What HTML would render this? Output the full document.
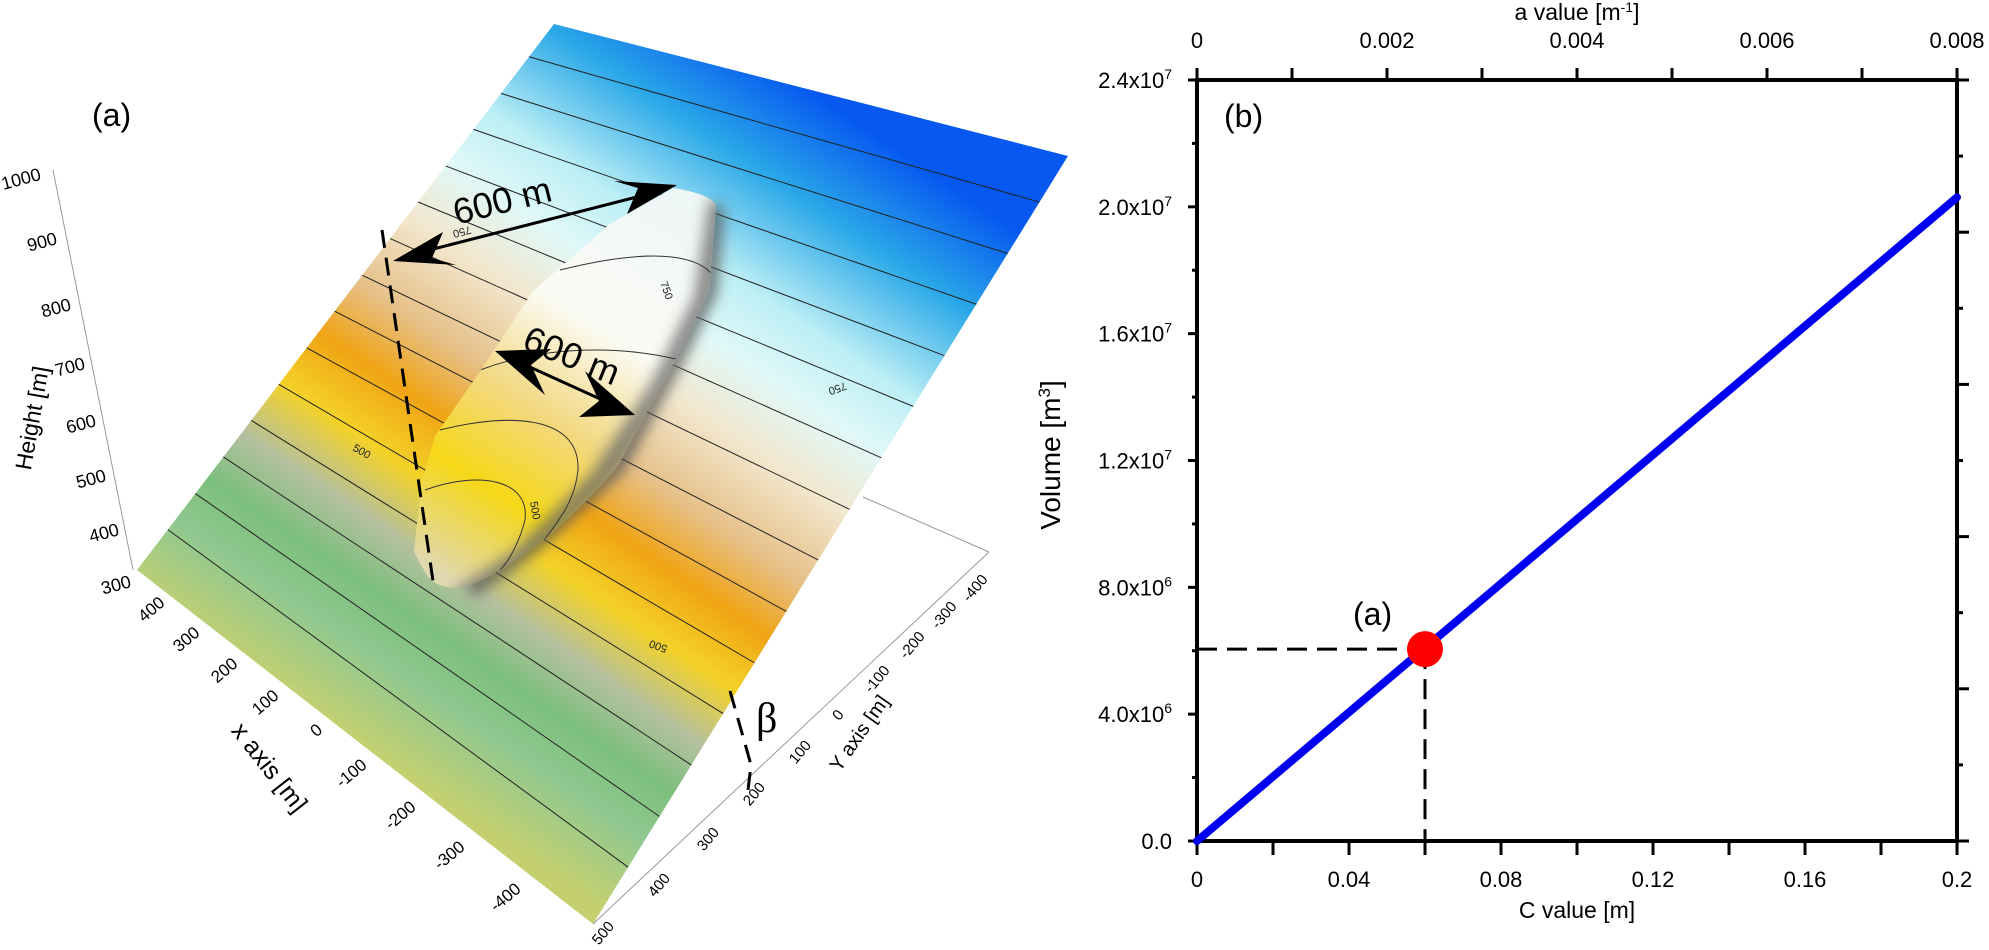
<!DOCTYPE html>
<html><head><meta charset="utf-8"><style>
html,body{margin:0;padding:0;background:#fff;}
svg{display:block;font-family:"Liberation Sans",Arial,sans-serif;}
</style></head><body>
<svg id="fig" width="1989" height="950" viewBox="0 0 1989 950" xmlns="http://www.w3.org/2000/svg">
<defs>
<linearGradient id="surfGrad" gradientUnits="userSpaceOnUse" x1="811" y1="90" x2="365" y2="747">
<stop offset="0" stop-color="#0658f0"/>
<stop offset="0.12" stop-color="#2aa8e8"/>
<stop offset="0.25" stop-color="#bdeff5"/>
<stop offset="0.33" stop-color="#e0f8f8"/>
<stop offset="0.42" stop-color="#f2e6cc"/>
<stop offset="0.52" stop-color="#e6c088"/>
<stop offset="0.60" stop-color="#f0a414"/>
<stop offset="0.68" stop-color="#f4d228"/>
<stop offset="0.76" stop-color="#b4c0a0"/>
<stop offset="0.83" stop-color="#7cbf7c"/>
<stop offset="0.90" stop-color="#90c890"/>
<stop offset="1" stop-color="#c4d070"/>
</linearGradient>
<linearGradient id="bumpGrad" gradientUnits="userSpaceOnUse" x1="690" y1="200" x2="450" y2="580">
<stop offset="0" stop-color="#eef6f6"/>
<stop offset="0.35" stop-color="#fbfbf4"/>
<stop offset="0.58" stop-color="#f3d880"/>
<stop offset="0.78" stop-color="#f6d818"/>
<stop offset="1" stop-color="#e0d8b0"/>
</linearGradient>
<filter id="blur"><feGaussianBlur stdDeviation="7"/></filter>
<clipPath id="bumpClip"><path d="M673,188 C700,192 716,200 716,206 L709,291 L673,364 L617,467 C580,510 530,560 470,585 C450,592 430,585 424,570 C418,560 414,552 414,552 L421,485 L435,436 L477,376 L533,291 L610,224 Z"/></clipPath>
</defs>

<!-- Panel (a) -->
<g>
  <line x1="53" y1="170" x2="133" y2="570" stroke="#999" stroke-width="1"/>
  <line x1="863" y1="497" x2="989" y2="552" stroke="#999" stroke-width="1"/>
  <line x1="989" y1="552" x2="593" y2="924" stroke="#999" stroke-width="1"/>
  <polygon points="554,24 1068,156 593,924 137,570" fill="url(#surfGrad)"/>
  <g id="contours" stroke="#222" stroke-width="1" fill="none"></g>
  <path d="M716,206 L709,291 L673,364 L617,467 L533,545 L470,590" stroke="#555" stroke-width="16" fill="none" filter="url(#blur)" opacity="0.8"/>
  <path d="M673,188 C700,192 716,200 716,206 L709,291 L673,364 L617,467 C580,510 530,560 470,585 C450,592 430,585 424,570 C418,560 414,552 414,552 L421,485 L435,436 L477,376 L533,291 L610,224 Z" fill="url(#bumpGrad)"/>
  <g clip-path="url(#bumpClip)">
    <path d="M720,200 L705,300 L660,390 L600,480 L520,560 L460,600" stroke="#666" stroke-width="22" fill="none" filter="url(#blur)" opacity="0.75"/>
    <path d="M560,270 C640,250 700,250 716,280" stroke="#333" stroke-width="1" fill="none"/>
    <path d="M480,370 C560,340 640,350 680,360" stroke="#333" stroke-width="1" fill="none"/>
    <path d="M440,430 C520,410 580,420 578,470 C575,500 560,520 540,545" stroke="#333" stroke-width="1" fill="none"/>
    <path d="M425,490 C480,470 530,480 525,520 C520,540 510,560 500,570" stroke="#333" stroke-width="1" fill="none"/>
  </g>
  <g font-size="11" fill="#222">
    <text x="470" y="226" transform="rotate(165 470 226)">750</text>
    <text x="660" y="283" transform="rotate(70 660 283)">750</text>
    <text x="845" y="382" transform="rotate(160 845 382)">750</text>
    <text x="352" y="450" transform="rotate(30 352 450)">500</text>
    <text x="530" y="502" transform="rotate(80 530 502)">500</text>
    <text x="668" y="646" transform="rotate(200 668 646)">500</text>
  </g>
  <line x1="382" y1="230" x2="434" y2="588" stroke="#000" stroke-width="3" stroke-dasharray="18,10"/>
  <path d="M730,691 L744,740 L751,765 L748,790" stroke="#000" stroke-width="3" stroke-dasharray="18,10" fill="none"/>
  <g>
    <line x1="410" y1="255" x2="660" y2="191" stroke="#000" stroke-width="3"/>
    <polygon points="393,261 443,232 432,258 456,265" fill="#000"/>
    <polygon points="677,185 627,214 638,188 614,181" fill="#000"/>
  </g>
  <g>
    <line x1="510" y1="358" x2="620" y2="408" stroke="#000" stroke-width="3"/>
    <polygon points="495,351 551,349 531,365 545,395" fill="#000"/>
    <polygon points="635,415 579,417 599,401 585,371" fill="#000"/>
  </g>
  <text x="502" y="213" font-size="36" text-anchor="middle" transform="rotate(-14 502 200)">600 m</text>
  <text x="572" y="368" font-size="36" text-anchor="middle" transform="rotate(22 572 355)">600 m</text>
  <text x="756" y="732" font-size="42" font-family="Liberation Serif, serif">β</text>
  <text x="92" y="126" font-size="32">(a)</text>
  <g font-size="18" text-anchor="middle">
    <text x="21" y="185" transform="rotate(-15 21 179)">1000</text>
    <text x="42" y="248" transform="rotate(-15 42 242)">900</text>
    <text x="56" y="314" transform="rotate(-15 56 308)">800</text>
    <text x="70" y="373" transform="rotate(-15 70 367)">700</text>
    <text x="81" y="430" transform="rotate(-15 81 424)">600</text>
    <text x="91" y="485" transform="rotate(-15 91 479)">500</text>
    <text x="104" y="539" transform="rotate(-15 104 533)">400</text>
    <text x="116" y="591" transform="rotate(-15 116 585)">300</text>
  </g>
  <text x="32" y="426" font-size="23" text-anchor="middle" transform="rotate(-80 32 418)">Height [m]</text>
  <g font-size="17" text-anchor="middle">
    <text x="151" y="615" transform="rotate(-40 151 609)">400</text>
    <text x="186" y="645" transform="rotate(-40 186 639)">300</text>
    <text x="224" y="676" transform="rotate(-40 224 670)">200</text>
    <text x="265" y="708" transform="rotate(-40 265 702)">100</text>
    <text x="316" y="736" transform="rotate(-40 316 730)">0</text>
    <text x="351" y="779" transform="rotate(-40 351 773)">-100</text>
    <text x="400" y="821" transform="rotate(-40 400 815)">-200</text>
    <text x="449" y="861" transform="rotate(-40 449 855)">-300</text>
    <text x="505" y="903" transform="rotate(-40 505 897)">-400</text>
  </g>
  <text x="270" y="776" font-size="25" text-anchor="middle" transform="rotate(52 270 767)">x axis [m]</text>
  <g font-size="15" text-anchor="middle">
    <text x="975" y="593" transform="rotate(-50 975 588)">-400</text>
    <text x="944" y="620" transform="rotate(-50 944 615)">-300</text>
    <text x="912" y="650" transform="rotate(-50 912 645)">-200</text>
    <text x="877" y="684" transform="rotate(-50 877 679)">-100</text>
    <text x="838" y="720" transform="rotate(-50 838 715)">0</text>
    <text x="800" y="757" transform="rotate(-50 800 752)">100</text>
    <text x="754" y="799" transform="rotate(-50 754 794)">200</text>
    <text x="708" y="844" transform="rotate(-50 708 839)">300</text>
    <text x="659" y="890" transform="rotate(-50 659 885)">400</text>
    <text x="603" y="938" transform="rotate(-50 603 933)">500</text>
  </g>
  <text x="859" y="740" font-size="20" text-anchor="middle" transform="rotate(-55 859 733)">Y axis [m]</text>
</g>

<!-- Panel (b) -->
<g id="panelB"></g>
</svg>
<script>
// ---- data for panel (b) ----
const cValues = [0, 0.2];
const volumeValues = [0, 2.03e7];
const pointC = [0.06];
const pointV = [6.05e6];
const cTickLabels = ["0", "0.04", "0.08", "0.12", "0.16", "0.2"];
const cTickValues = [0, 0.04, 0.08, 0.12, 0.16, 0.2];
const aTickLabels = ["0", "0.002", "0.004", "0.006", "0.008"];
const aTickValues = [0, 0.002, 0.004, 0.006, 0.008];
const vTickValues = [0, 4e6, 8e6, 1.2e7, 1.6e7, 2.0e7, 2.4e7];
const vTickMant = ["0.0", "4.0x10", "8.0x10", "1.2x10", "1.6x10", "2.0x10", "2.4x10"];
const vTickExp = ["", "6", "6", "7", "7", "7", "7"];
// contour fractions for panel (a)
const contourFractions = [0.06, 0.127, 0.193, 0.26, 0.326, 0.393, 0.46, 0.526, 0.593, 0.66, 0.726, 0.793, 0.86, 0.926];

const NS = "http://www.w3.org/2000/svg";
function mk(tag, attrs, parent) {
  const e = document.createElementNS(NS, tag);
  for (const k in attrs) e.setAttribute(k, attrs[k]);
  parent.appendChild(e);
  return e;
}

// contours on surface (a)
const cg = document.getElementById('contours');
const T = [554,24], R = [1068,156], B = [593,924], L = [137,570];
contourFractions.forEach(f => {
  const p1 = [T[0] + (L[0]-T[0])*f, T[1] + (L[1]-T[1])*f];
  const p2 = [R[0] + (B[0]-R[0])*f, R[1] + (B[1]-R[1])*f];
  const ln = mk('line', {x1:p1[0], y1:p1[1], x2:p2[0], y2:p2[1]}, cg);
  
  
});

// panel (b)
const g = document.getElementById('panelB');
const X0 = 1197, X1 = 1957, Y0 = 841, Y1 = 80;
const xS = c => X0 + c / 0.2 * (X1 - X0);
const xA = a => X0 + a / 0.008 * (X1 - X0);
const yS = v => Y0 - v / 2.4e7 * (Y0 - Y1);

for (let i = 0; i <= 10; i++) {
  const c = i * 0.02;
  const t = mk('line', {x1:xS(c), y1:Y0, x2:xS(c), y2:Y0+14, stroke:'#000', 'stroke-width':3}, g);
  
  
}
for (let i = 0; i <= 8; i++) {
  const a = i * 0.001;
  const t = mk('line', {x1:xA(a), y1:Y1, x2:xA(a), y2:Y1-12, stroke:'#000', 'stroke-width':3}, g);
  
  
}
for (let i = 0; i <= 12; i++) {
  const v = i * 2e6;
  const len = i % 2 === 0 ? 9 : 5;
  const t = mk('line', {x1:X0-len, y1:yS(v), x2:X0, y2:yS(v), stroke:'#000', 'stroke-width':3}, g);
  
  
}
for (let i = 0; i <= 10; i++) {
  const y = Y0 - i * (Y0 - Y1) / 10;
  const len = i % 2 === 0 ? 12 : 6;
  const t = mk('line', {x1:X1, y1:y, x2:X1+len, y2:y, stroke:'#000', 'stroke-width':3}, g);
  
  
}
const fr = mk('rect', {x:X0, y:Y1, width:X1-X0, height:Y0-Y1, fill:'none', stroke:'#000', 'stroke-width':4}, g);



cTickValues.forEach((c, i) => {
  const t = mk('text', {x:xS(c), y:887, 'font-size':22, 'text-anchor':'middle'}, g);
  t.textContent = cTickLabels[i];
  
  
});
aTickValues.forEach((a, i) => {
  const t = mk('text', {x:xA(a), y:48, 'font-size':22, 'text-anchor':'middle'}, g);
  t.textContent = aTickLabels[i];
  
  
});
vTickValues.forEach((v, i) => {
  const t = mk('text', {x:1172, y:yS(v)+8, 'font-size':22, 'text-anchor':'end'}, g);
  t.textContent = vTickMant[i];
  if (vTickExp[i]) {
    const s = mk('tspan', {dy:-9, 'font-size':14}, t);
    s.textContent = vTickExp[i];
  }
  
  
});
let tt = mk('text', {x:1577, y:20, 'font-size':23, 'text-anchor':'middle'}, g);
tt.innerHTML = 'a value [m<tspan dy="-8" font-size="14">-1</tspan><tspan dy="8">]</tspan>';


tt = mk('text', {x:1577, y:918, 'font-size':23, 'text-anchor':'middle'}, g);
tt.textContent = 'C value [m]';


tt = mk('text', {x:1068, y:463, 'font-size':28, 'text-anchor':'middle', transform:'rotate(-90 1060 463)'}, g);
tt.innerHTML = 'Volume [m<tspan dy="-10" font-size="17">3</tspan><tspan dy="10">]</tspan>';


tt = mk('text', {x:1224, y:127, 'font-size':32}, g);
tt.textContent = '(b)';



const pts = cValues.map((c, i) => xS(c) + ',' + yS(volumeValues[i])).join(' ');
const pl = mk('polyline', {points:pts, fill:'none', stroke:'#0000f0', 'stroke-width':8, 'stroke-linecap':'round'}, g);



pointC.forEach((c, i) => {
  const px = xS(c), py = yS(pointV[i]);
  const h = mk('line', {x1:X0, y1:py, x2:px, y2:py, stroke:'#000', 'stroke-width':3, 'stroke-dasharray':'20,10'}, g);
  
  
  const v = mk('line', {x1:px, y1:py, x2:px, y2:Y0, stroke:'#000', 'stroke-width':3, 'stroke-dasharray':'20,10'}, g);
  
  
  const d = mk('circle', {cx:px, cy:py, r:18, fill:'#ff0000'}, g);
  
  
  const l = mk('text', {x:px-72, y:py-24, 'font-size':32}, g);
  l.textContent = '(a)';
  
  
});
</script>
</body></html>
